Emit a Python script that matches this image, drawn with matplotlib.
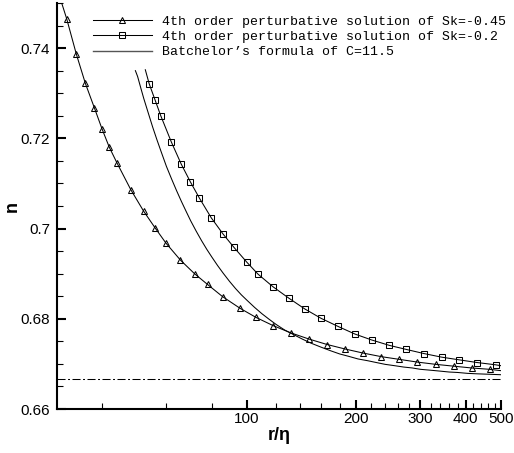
#!/usr/bin/env python3
# local slope n versus r/eta: perturbative solutions and Batchelor's formula

import matplotlib
matplotlib.use("Agg")
import matplotlib.pyplot as plt
from matplotlib.ticker import FixedLocator, FuncFormatter, MultipleLocator

# 4th order perturbative solution, Sk=-0.45 (triangles)
tri_r = [31.9, 33.9, 35.9, 38.0, 39.9, 41.8, 43.9, 47.9, 51.9, 55.8,
         59.8, 65.6, 71.7, 77.9, 85.7, 95.8, 105.9, 117.9, 131.8, 148.2,
         166.1, 186.2, 208.7, 234.4, 262.8, 294.5, 330.7, 370.2, 414.8, 465.0]
tri_n = [0.7465, 0.7387, 0.7322, 0.7268, 0.7221, 0.7180, 0.7145, 0.7086, 0.7039, 0.7002,
         0.6968, 0.6930, 0.6900, 0.6876, 0.6849, 0.6823, 0.6803, 0.6785, 0.6769, 0.6755,
         0.6743, 0.6733, 0.6724, 0.6716, 0.6710, 0.6704, 0.6699, 0.6695, 0.6691, 0.6688]
# curve ends beyond the first / last marker
tri_head_r = [30.0, 30.9]
tri_head_n = [0.7500, 0.7500]
tri_tail_r = [500.0]
tri_tail_n = [0.6685]

# 4th order perturbative solution, Sk=-0.2 (squares)
sq_r = [53.8, 55.9, 57.9, 61.9, 65.9, 69.9, 73.9, 79.7, 85.9, 91.9,
        100.0, 107.2, 117.9, 130.2, 144.1, 159.9, 178.1, 198.4, 220.4, 246.6,
        274.6, 306.6, 343.0, 383.7, 430.1, 483.1]
sq_n = [0.7321, 0.7284, 0.7250, 0.7192, 0.7143, 0.7103, 0.7068, 0.7024, 0.6988, 0.6959,
        0.6925, 0.6899, 0.6871, 0.6846, 0.6822, 0.6801, 0.6783, 0.6766, 0.6753, 0.6741,
        0.6732, 0.6723, 0.6715, 0.6709, 0.6703, 0.6698]
sq_head_r = [52.5]
sq_head_n = [0.7352]
sq_tail_r = [500.0]
sq_tail_n = [0.6696]

# Batchelor's formula, C=11.5
bat_r = [49.3, 50, 51, 52, 53.5, 55, 56.5, 58, 60, 62, 64, 66, 68, 70, 72.5, 75,
         77.5, 80, 83, 86, 89.5, 93, 96.5, 100, 105, 110, 115, 120, 127, 135,
         142, 150, 160, 170, 180, 190, 202, 215, 227, 240, 255, 270, 285, 300,
         320, 340, 360, 380, 405, 430, 465, 500]
bat_n = [0.7350, 0.7337, 0.7312, 0.7288, 0.7256, 0.7225, 0.7197, 0.7171, 0.7138,
         0.7110, 0.7084, 0.7060, 0.7038, 0.7017, 0.6994, 0.6973, 0.6954, 0.6937,
         0.6918, 0.6901, 0.6883, 0.6867, 0.6853, 0.6841, 0.6825, 0.6811, 0.6799,
         0.6788, 0.6775, 0.6764, 0.6755, 0.6746, 0.6737, 0.6729, 0.6722, 0.6717,
         0.6711, 0.6707, 0.6703, 0.6699, 0.6696, 0.6693, 0.6691, 0.6688, 0.6686,
         0.6684, 0.6682, 0.6681, 0.6679, 0.6678, 0.6677, 0.6676]

asymptote = 0.6667

labels = ["4th order perturbative solution of Sk=-0.45",
          "4th order perturbative solution of Sk=-0.2",
          "Batchelor\u2019s formula of C=11.5"]

x_major = [100, 200, 300, 400, 500]
x_minor = [v for v in range(40, 500, 20) if v not in x_major]


def main():
    plt.rcParams["font.family"] = ["Liberation Sans", "DejaVu Sans"]
    plt.rcParams["lines.scale_dashes"] = False

    fig = plt.figure(figsize=(5.14, 4.53), dpi=100)
    ax = fig.add_axes([0.1109, 0.0971, 0.8638, 0.8963])

    lw = 0.75
    ax.plot(tri_head_r + tri_r + tri_tail_r, tri_head_n + tri_n + tri_tail_n,
            color="black", lw=lw)
    ax.plot(sq_head_r + sq_r + sq_tail_r, sq_head_n + sq_n + sq_tail_n,
            color="black", lw=lw)
    ax.plot(bat_r, bat_n, color="black", lw=lw)
    ax.plot(tri_r, tri_n, ls="none", marker="^", ms=4.6, mfc="none",
            mec="black", mew=0.75)
    ax.plot(sq_r, sq_n, ls="none", marker="s", ms=3.8, mfc="none",
            mec="black", mew=0.75)
    ax.axhline(asymptote, color="black", lw=lw,
               ls=(0, (5.8, 1.8, 1.4, 1.8)))

    # legend proxies
    h1, = ax.plot([], [], color="black", lw=lw, marker="^", ms=4.6,
                  mfc="none", mew=0.75)
    h2, = ax.plot([], [], color="black", lw=lw, marker="s", ms=3.8,
                  mfc="none", mew=0.75)
    h3, = ax.plot([], [], color="#555555", lw=1.0)
    ax.legend([h1, h2, h3], labels, loc="upper left",
              bbox_to_anchor=(0.1804, 0.966), bbox_transform=fig.transFigure,
              frameon=False, borderpad=0, borderaxespad=0,
              handlelength=4.5, handletextpad=0.78, labelspacing=0.24,
              prop={"family": "Liberation Mono", "size": 9.5})

    ax.set_xscale("log")
    ax.set_xlim(30, 500)
    ax.set_ylim(0.66, 0.75)

    ax.xaxis.set_major_locator(FixedLocator(x_major))
    ax.xaxis.set_minor_locator(FixedLocator(x_minor))
    ax.xaxis.set_major_formatter(FuncFormatter(lambda v, p: f"{v:g}"))
    ax.xaxis.set_minor_formatter(FuncFormatter(lambda v, p: ""))
    ax.yaxis.set_major_locator(MultipleLocator(0.02))
    ax.yaxis.set_minor_locator(MultipleLocator(0.005))
    ax.yaxis.set_major_formatter(FuncFormatter(lambda v, p: f"{v:g}"))

    for s in ("top", "right"):
        ax.spines[s].set_visible(False)
    for s in ("left", "bottom"):
        ax.spines[s].set_linewidth(1.5)

    ax.tick_params(which="both", direction="in", top=False, right=False)
    ax.tick_params(which="major", length=6.8, width=1.5, labelsize=11)
    ax.tick_params(axis="y", which="major", pad=5)
    ax.tick_params(axis="x", which="major", pad=2)
    ax.tick_params(which="minor", length=4.3, width=0.8)

    ax.set_xlabel("r/\u03b7", fontsize=13, fontweight="bold")
    ax.set_ylabel("n", fontsize=13, fontweight="bold")
    ax.xaxis.set_label_coords(0.5, -0.045)
    ax.yaxis.set_label_coords(-0.082, 0.5)

    fig.savefig("out.png", dpi=100)


if __name__ == "__main__":
    main()
